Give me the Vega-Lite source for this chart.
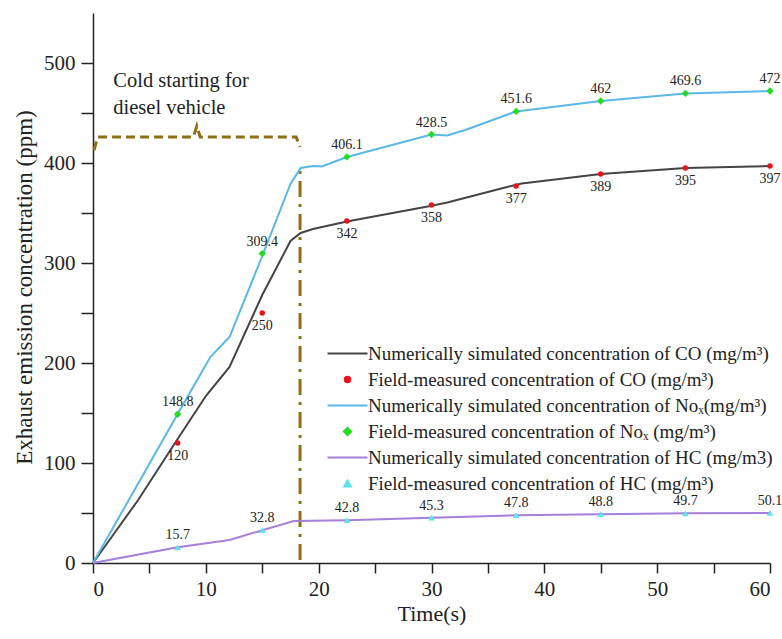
{
  "$schema": "https://vega.github.io/schema/vega-lite/v6.json",
  "width": 677,
  "height": 550,
  "autosize": {"type": "none"},
  "padding": {"left": 93, "top": 13, "right": 12, "bottom": 76},
  "background": "white",
  "config": {
    "view": {"stroke": null},
    "font": "Liberation Serif",
    "axis": {"grid": false, "domainColor": "#222", "tickColor": "#222", "domainWidth": 1.5, "tickWidth": 1.5, "labelColor": "#222", "titleColor": "#222", "labelFont": "Liberation Serif", "titleFont": "Liberation Serif", "labelFontSize": 21, "titleFontSize": 21, "titleFontWeight": "normal"}
  },
  "datasets": {
    "sim": [
      {"series": "Numerically simulated concentration of CO (mg/m³)", "t": 0, "v": 0},
      {"series": "Numerically simulated concentration of CO (mg/m³)", "t": 4, "v": 63},
      {"series": "Numerically simulated concentration of CO (mg/m³)", "t": 7.5, "v": 124},
      {"series": "Numerically simulated concentration of CO (mg/m³)", "t": 10, "v": 167},
      {"series": "Numerically simulated concentration of CO (mg/m³)", "t": 12.1, "v": 196},
      {"series": "Numerically simulated concentration of CO (mg/m³)", "t": 15, "v": 268},
      {"series": "Numerically simulated concentration of CO (mg/m³)", "t": 17.5, "v": 322},
      {"series": "Numerically simulated concentration of CO (mg/m³)", "t": 18.4, "v": 330},
      {"series": "Numerically simulated concentration of CO (mg/m³)", "t": 19.5, "v": 334},
      {"series": "Numerically simulated concentration of CO (mg/m³)", "t": 22.5, "v": 341.5},
      {"series": "Numerically simulated concentration of CO (mg/m³)", "t": 29.9, "v": 357},
      {"series": "Numerically simulated concentration of CO (mg/m³)", "t": 31.4, "v": 360.5},
      {"series": "Numerically simulated concentration of CO (mg/m³)", "t": 36.7, "v": 376},
      {"series": "Numerically simulated concentration of CO (mg/m³)", "t": 38, "v": 379.5},
      {"series": "Numerically simulated concentration of CO (mg/m³)", "t": 45, "v": 389},
      {"series": "Numerically simulated concentration of CO (mg/m³)", "t": 52.5, "v": 395},
      {"series": "Numerically simulated concentration of CO (mg/m³)", "t": 60, "v": 397},
      {"series": "Numerically simulated concentration of Noₓ(mg/m³)", "t": 0, "v": 0},
      {"series": "Numerically simulated concentration of Noₓ(mg/m³)", "t": 7.5, "v": 149},
      {"series": "Numerically simulated concentration of Noₓ(mg/m³)", "t": 10.4, "v": 206},
      {"series": "Numerically simulated concentration of Noₓ(mg/m³)", "t": 12.1, "v": 226},
      {"series": "Numerically simulated concentration of Noₓ(mg/m³)", "t": 15, "v": 307},
      {"series": "Numerically simulated concentration of Noₓ(mg/m³)", "t": 17.5, "v": 379},
      {"series": "Numerically simulated concentration of Noₓ(mg/m³)", "t": 18.4, "v": 395},
      {"series": "Numerically simulated concentration of Noₓ(mg/m³)", "t": 19.5, "v": 397},
      {"series": "Numerically simulated concentration of Noₓ(mg/m³)", "t": 20.3, "v": 396.5},
      {"series": "Numerically simulated concentration of Noₓ(mg/m³)", "t": 22.5, "v": 406},
      {"series": "Numerically simulated concentration of Noₓ(mg/m³)", "t": 30, "v": 428.5},
      {"series": "Numerically simulated concentration of Noₓ(mg/m³)", "t": 31.4, "v": 427.5},
      {"series": "Numerically simulated concentration of Noₓ(mg/m³)", "t": 33, "v": 433},
      {"series": "Numerically simulated concentration of Noₓ(mg/m³)", "t": 37.5, "v": 451.6},
      {"series": "Numerically simulated concentration of Noₓ(mg/m³)", "t": 40, "v": 455},
      {"series": "Numerically simulated concentration of Noₓ(mg/m³)", "t": 45, "v": 462},
      {"series": "Numerically simulated concentration of Noₓ(mg/m³)", "t": 52.5, "v": 469.6},
      {"series": "Numerically simulated concentration of Noₓ(mg/m³)", "t": 60, "v": 472},
      {"series": "Numerically simulated concentration of HC (mg/m3)", "t": 0, "v": 0},
      {"series": "Numerically simulated concentration of HC (mg/m3)", "t": 7.5, "v": 15.7},
      {"series": "Numerically simulated concentration of HC (mg/m3)", "t": 12.1, "v": 23},
      {"series": "Numerically simulated concentration of HC (mg/m3)", "t": 15, "v": 32.8},
      {"series": "Numerically simulated concentration of HC (mg/m3)", "t": 17.8, "v": 42},
      {"series": "Numerically simulated concentration of HC (mg/m3)", "t": 22.5, "v": 42.8},
      {"series": "Numerically simulated concentration of HC (mg/m3)", "t": 30, "v": 45.3},
      {"series": "Numerically simulated concentration of HC (mg/m3)", "t": 37.5, "v": 47.8},
      {"series": "Numerically simulated concentration of HC (mg/m3)", "t": 45, "v": 48.8},
      {"series": "Numerically simulated concentration of HC (mg/m3)", "t": 52.5, "v": 49.7},
      {"series": "Numerically simulated concentration of HC (mg/m3)", "t": 60, "v": 50.1}
    ],
    "meas": [
      {"series": "Field-measured concentration of CO (mg/m³)", "gas": "CO", "t": 7.5, "v": 120, "label": "120"},
      {"series": "Field-measured concentration of CO (mg/m³)", "gas": "CO", "t": 15, "v": 250, "label": "250"},
      {"series": "Field-measured concentration of CO (mg/m³)", "gas": "CO", "t": 22.5, "v": 342, "label": "342"},
      {"series": "Field-measured concentration of CO (mg/m³)", "gas": "CO", "t": 30, "v": 358, "label": "358"},
      {"series": "Field-measured concentration of CO (mg/m³)", "gas": "CO", "t": 37.5, "v": 377, "label": "377"},
      {"series": "Field-measured concentration of CO (mg/m³)", "gas": "CO", "t": 45, "v": 389, "label": "389"},
      {"series": "Field-measured concentration of CO (mg/m³)", "gas": "CO", "t": 52.5, "v": 395, "label": "395"},
      {"series": "Field-measured concentration of CO (mg/m³)", "gas": "CO", "t": 60, "v": 397, "label": "397"},
      {"series": "Field-measured concentration of Noₓ (mg/m³)", "gas": "NOx", "t": 7.5, "v": 148.8, "label": "148.8"},
      {"series": "Field-measured concentration of Noₓ (mg/m³)", "gas": "NOx", "t": 15, "v": 309.4, "label": "309.4"},
      {"series": "Field-measured concentration of Noₓ (mg/m³)", "gas": "NOx", "t": 22.5, "v": 406.1, "label": "406.1"},
      {"series": "Field-measured concentration of Noₓ (mg/m³)", "gas": "NOx", "t": 30, "v": 428.5, "label": "428.5"},
      {"series": "Field-measured concentration of Noₓ (mg/m³)", "gas": "NOx", "t": 37.5, "v": 451.6, "label": "451.6"},
      {"series": "Field-measured concentration of Noₓ (mg/m³)", "gas": "NOx", "t": 45, "v": 462, "label": "462"},
      {"series": "Field-measured concentration of Noₓ (mg/m³)", "gas": "NOx", "t": 52.5, "v": 469.6, "label": "469.6"},
      {"series": "Field-measured concentration of Noₓ (mg/m³)", "gas": "NOx", "t": 60, "v": 472, "label": "472"},
      {"series": "Field-measured concentration of HC (mg/m³)", "gas": "HC", "t": 7.5, "v": 15.7, "label": "15.7"},
      {"series": "Field-measured concentration of HC (mg/m³)", "gas": "HC", "t": 15, "v": 32.8, "label": "32.8"},
      {"series": "Field-measured concentration of HC (mg/m³)", "gas": "HC", "t": 22.5, "v": 42.8, "label": "42.8"},
      {"series": "Field-measured concentration of HC (mg/m³)", "gas": "HC", "t": 30, "v": 45.3, "label": "45.3"},
      {"series": "Field-measured concentration of HC (mg/m³)", "gas": "HC", "t": 37.5, "v": 47.8, "label": "47.8"},
      {"series": "Field-measured concentration of HC (mg/m³)", "gas": "HC", "t": 45, "v": 48.8, "label": "48.8"},
      {"series": "Field-measured concentration of HC (mg/m³)", "gas": "HC", "t": 52.5, "v": 49.7, "label": "49.7"},
      {"series": "Field-measured concentration of HC (mg/m³)", "gas": "HC", "t": 60, "v": 50.1, "label": "50.1"}
    ],
    "bracket": [
      {"t": 0.1, "v": 413},
      {"t": 0.4, "v": 426},
      {"t": 8.9, "v": 426},
      {"t": 9.2, "v": 437},
      {"t": 9.5, "v": 426},
      {"t": 18.0, "v": 426},
      {"t": 18.35, "v": 416}
    ],
    "vline": [{"t": 18.35, "v": 3, "v2": 398}],
    "note": [
      {"t": 1.8, "v": 482, "text": "Cold starting for"},
      {"t": 1.8, "v": 455, "text": "diesel vehicle"}
    ]
  },
  "layer": [
    {
      "data": {"name": "bracket"},
      "mark": {"type": "line", "color": "#8f6f16", "strokeWidth": 3, "strokeDash": [9, 5]},
      "encoding": {
        "x": {"field": "t", "type": "quantitative", "scale": {"domain": [0, 60], "nice": false}},
        "y": {"field": "v", "type": "quantitative", "scale": {"domain": [0, 550], "nice": false}}
      }
    },
    {
      "data": {"name": "vline"},
      "mark": {"type": "rule", "color": "#8f6f16", "strokeWidth": 3, "strokeDash": [16, 7, 3, 7]},
      "encoding": {
        "x": {"field": "t", "type": "quantitative"},
        "y": {"field": "v", "type": "quantitative"},
        "y2": {"field": "v2"}
      }
    },
    {
      "data": {"name": "sim"},
      "mark": {"type": "line", "strokeWidth": 2},
      "encoding": {
        "x": {"field": "t", "type": "quantitative",
          "axis": {"title": "Time(s)", "titleFontSize": 22, "values": [0,5,10,15,20,25,30,35,40,45,50,55,60], "labelExpr": "datum.value % 10 == 0 ? datum.label : ''", "tickSize": 10, "labelPadding": 5, "titlePadding": 4,
            "encode": {"ticks": {"update": {"y2": {"signal": "datum.value % 10 == 0 ? 10 : 6"}}}}}},
        "y": {"field": "v", "type": "quantitative",
          "axis": {"title": "Exhaust emission concentration (ppm)", "titleFontSize": 23, "titleX": -57, "titleY": 274, "values": [0,50,100,150,200,250,300,350,400,450,500], "labelExpr": "datum.value % 100 == 0 ? datum.label : ''", "tickSize": 12, "labelPadding": 6,
            "encode": {"ticks": {"update": {"x2": {"signal": "datum.value % 100 == 0 ? -12 : -5"}}}}}},
        "color": {"field": "series", "type": "nominal",
          "scale": {
            "domain": ["Numerically simulated concentration of CO (mg/m³)", "Field-measured concentration of CO (mg/m³)", "Numerically simulated concentration of Noₓ(mg/m³)", "Field-measured concentration of Noₓ (mg/m³)", "Numerically simulated concentration of HC (mg/m3)", "Field-measured concentration of HC (mg/m³)"],
            "range": ["#444444", "#e8141c", "#5ab8e8", "#22dd22", "#a57fd8", "#5ce3ef"]
          },
          "legend": {"title": null, "orient": "none", "legendX": 245, "legendY": 331, "labelFont": "Liberation Serif", "labelFontSize": 19, "labelColor": "#222", "labelLimit": 600, "rowPadding": 6, "labelOffset": 11, "padding": 0,
            "encode": {"symbols": {"update": {"stroke": {"scale": "color", "field": "value"}, "strokeWidth": {"value": 2}}}}}
        }
      }
    },
    {
      "data": {"name": "meas"},
      "mark": {"type": "point", "filled": true, "opacity": 1},
      "encoding": {
        "x": {"field": "t", "type": "quantitative"},
        "y": {"field": "v", "type": "quantitative"},
        "color": {"field": "series", "type": "nominal"},
        "shape": {"field": "series", "type": "nominal",
          "scale": {
            "domain": ["Numerically simulated concentration of CO (mg/m³)", "Field-measured concentration of CO (mg/m³)", "Numerically simulated concentration of Noₓ(mg/m³)", "Field-measured concentration of Noₓ (mg/m³)", "Numerically simulated concentration of HC (mg/m3)", "Field-measured concentration of HC (mg/m³)"],
            "range": ["M-4,0H4", "circle", "M-4,0H4", "diamond", "M-4,0H4", "triangle-up"]
          }},
        "size": {"field": "series", "type": "nominal",
          "scale": {
            "type": "ordinal",
            "domain": ["Numerically simulated concentration of CO (mg/m³)", "Field-measured concentration of CO (mg/m³)", "Numerically simulated concentration of Noₓ(mg/m³)", "Field-measured concentration of Noₓ (mg/m³)", "Numerically simulated concentration of HC (mg/m3)", "Field-measured concentration of HC (mg/m³)"],
            "range": [100, 30, 100, 55, 100, 45]
          }}
      }
    },
    {
      "data": {"name": "meas"},
      "transform": [{"filter": "datum.gas == 'CO'"}],
      "mark": {"type": "text", "font": "Liberation Serif", "fontSize": 14, "color": "#222", "dy": 13},
      "encoding": {
        "x": {"field": "t", "type": "quantitative"},
        "y": {"field": "v", "type": "quantitative"},
        "text": {"field": "label"}
      }
    },
    {
      "data": {"name": "meas"},
      "transform": [{"filter": "datum.gas != 'CO'"}],
      "mark": {"type": "text", "font": "Liberation Serif", "fontSize": 14, "color": "#222", "dy": -12},
      "encoding": {
        "x": {"field": "t", "type": "quantitative"},
        "y": {"field": "v", "type": "quantitative"},
        "text": {"field": "label"}
      }
    },
    {
      "data": {"name": "note"},
      "mark": {"type": "text", "font": "Liberation Serif", "fontSize": 20.5, "color": "#222", "align": "left", "baseline": "middle"},
      "encoding": {
        "x": {"field": "t", "type": "quantitative"},
        "y": {"field": "v", "type": "quantitative"},
        "text": {"field": "text"}
      }
    }
  ]
}
